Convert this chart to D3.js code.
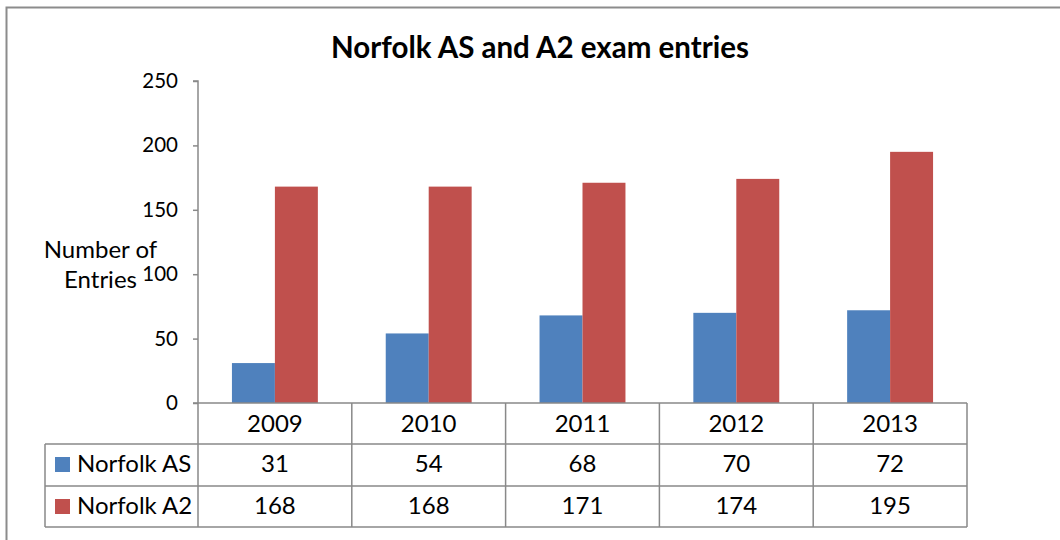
<!DOCTYPE html>
<html>
<head>
<meta charset="utf-8">
<script src="https://cdn.jsdelivr.net/npm/d3@7"></script>
<style>
  html, body { margin: 0; padding: 0; background: #fff; }
  svg { display: block; }
  text { font-family: Lato, "Open Sans", sans-serif; fill: #000; }
</style>
</head>
<body>
<svg id="chart" width="1060" height="540"></svg>
<script>
const title = "Norfolk AS and A2 exam entries";
const years = ["2009", "2010", "2011", "2012", "2013"];
const seriesNames = ["Norfolk AS", "Norfolk A2"];
const asValues = [31, 54, 68, 70, 72];
const a2Values = [168, 168, 171, 174, 195];
const yTicks = [0, 50, 100, 150, 200, 250];
const yLabelLines = ["Number of", "Entries"];
const colors = ["#4F81BD", "#C0504D"];

const seriesValues = [asValues, a2Values];

const svg = d3.select("#chart");
const gridColor = "#898989";

// outer border
svg.append("rect")
  .attr("x", 6.5).attr("y", 7.5)
  .attr("width", 1070).attr("height", 560)
  .attr("fill", "none").attr("stroke", "#8c8c8c").attr("stroke-width", 2);

const plotLeft = 198, plotRight = 967, plotTop = 81, plotBottom = 403;

const x = d3.scaleBand().domain(years).range([plotLeft, plotRight]).padding(0);
const xs = d3.scaleBand().domain(seriesNames).range([0, x.bandwidth()])
  .paddingInner(0).paddingOuter(0.79);
const y = d3.scaleLinear().domain([0, 250]).range([plotBottom, plotTop]);

// title
svg.append("text")
  .attr("x", 540).attr("y", 58)
  .attr("text-anchor", "middle")
  .attr("font-size", 29.5).attr("font-weight", "bold")
  .text(title);

// bars
seriesNames.forEach((s, si) => {
  svg.append("g").selectAll("rect")
    .data(years.map((yr, i) => ({ yr, v: seriesValues[si][i] })))
    .join("rect")
    .attr("x", d => x(d.yr) + xs(s))
    .attr("width", xs.bandwidth())
    .attr("y", d => y(d.v))
    .attr("height", d => y(0) - y(d.v))
    .attr("fill", colors[si]);
});

// y axis
const yAxis = d3.axisLeft(y).tickValues(yTicks).tickSize(5).tickPadding(15);
const ga = svg.append("g").attr("transform", `translate(${plotLeft},0)`).call(yAxis);
ga.select(".domain").attr("stroke", gridColor).attr("stroke-width", 1.5)
  .attr("d", `M-5,${plotTop}H0V${plotBottom}`);
ga.selectAll(".tick line").attr("stroke", gridColor).attr("stroke-width", 1.5);
ga.selectAll(".tick text").attr("font-size", 20.5).attr("font-family", "Lato, sans-serif").attr("fill", "#000");

// y label
const yl = svg.append("text").attr("font-size", 24).attr("text-anchor", "middle");
yl.append("tspan").attr("x", 100.5).attr("y", 258).text(yLabelLines[0]);
yl.append("tspan").attr("x", 100.5).attr("y", 288).text(yLabelLines[1]);

// data table
const rowY = [plotBottom, 444, 486, 527];
const tableLeft = 45;
const tg = svg.append("g").attr("stroke", gridColor).attr("stroke-width", 1.5).attr("fill", "none");
tg.append("line").attr("x1", plotLeft - 5).attr("x2", plotRight).attr("y1", rowY[0]).attr("y2", rowY[0]);
rowY.slice(1).forEach(ry => tg.append("line").attr("x1", tableLeft).attr("x2", plotRight).attr("y1", ry).attr("y2", ry));
tg.append("line").attr("x1", tableLeft).attr("x2", tableLeft).attr("y1", rowY[1]).attr("y2", rowY[3]);
years.forEach(yr => tg.append("line").attr("x1", x(yr)).attr("x2", x(yr)).attr("y1", rowY[0]).attr("y2", rowY[3]));
tg.append("line").attr("x1", plotRight).attr("x2", plotRight).attr("y1", rowY[0]).attr("y2", rowY[3]);

const fs = 24;
// header labels
svg.append("g").selectAll("text").data(years).join("text")
  .attr("x", d => x(d) + x.bandwidth() / 2)
  .attr("y", 432)
  .attr("text-anchor", "middle").attr("font-size", fs)
  .text(d => d);

// rows
seriesNames.forEach((s, si) => {
  const base = si === 0 ? 472 : 514;
  svg.append("rect").attr("x", 55).attr("y", base - 15).attr("width", 15).attr("height", 15).attr("fill", colors[si]);
  svg.append("text").attr("x", 77).attr("y", base).attr("font-size", fs).text(s);
  svg.append("g").selectAll("text").data(years.map((yr, i) => ({ yr, v: seriesValues[si][i] }))).join("text")
    .attr("x", d => x(d.yr) + x.bandwidth() / 2)
    .attr("y", base)
    .attr("text-anchor", "middle").attr("font-size", fs)
    .text(d => d.v);
});
</script>
</body>
</html>
